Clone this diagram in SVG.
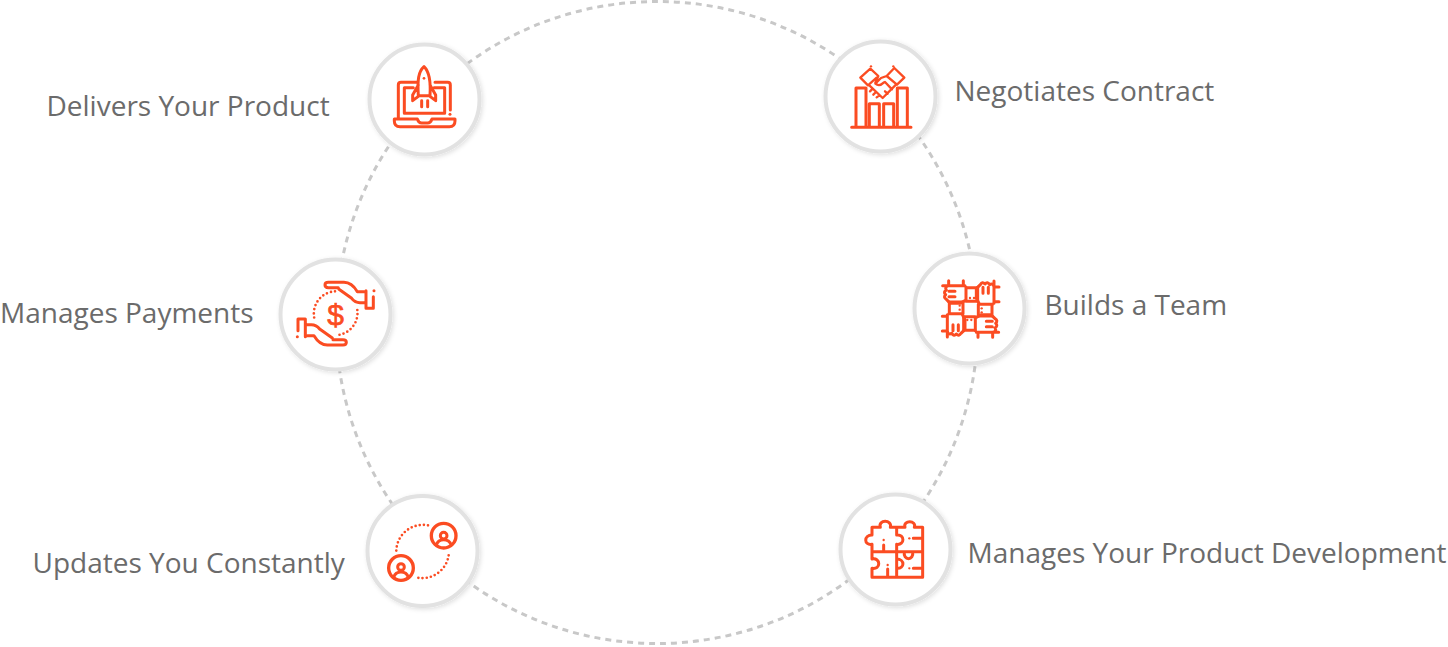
<svg xmlns="http://www.w3.org/2000/svg" width="1448" height="647" viewBox="0 0 1448 647">
<defs>
<filter id="sh" x="-20%" y="-20%" width="150%" height="150%"><feDropShadow dx="1.500" dy="1.500" stdDeviation="2" flood-color="#000" flood-opacity=".12"/></filter>
<g id="weave"><path class="ic" d="M113 125H180M131 110V125M175 110V125M131 125Q118 128 124 138Q114 145 122 152Q114 160 124 166L136 178H165L180 170M183 130V172H218V130M133 178V208M150 142H132M150 158H132"/><circle class="dt" cx="195" cy="162" r="3.500"/><circle class="dt" cx="207" cy="162" r="3.500"/></g>
<g id="palm"><path class="ic" d="M282 125H262Q245 97 222 97H175Q165 97 165 105Q165 113 175 113H205M207 118L245 145Q255 158 270 158H283M288 122V175H310V140"/><circle class="dt" cx="312" cy="122" r="4.500"/></g>
</defs>
<style>
.lb{font-family:"Open Sans",sans-serif;font-size:28px;fill:#6b6b6b}
.ring{fill:#fff;stroke:#e2e2e2;stroke-width:4;filter:url(#sh)}
.ic{fill:none;stroke:#fb4c22;stroke-width:9;stroke-linecap:round;stroke-linejoin:round}
.dots{fill:none;stroke:#fb4c22;stroke-width:8;stroke-linecap:round;stroke-dasharray:0 12.500}
.dt{fill:#fb4c22}
</style>
<rect width="1448" height="647" fill="#fff"/>
<g id="connectors"><circle cx="657" cy="322.500" r="321" fill="none" stroke="#c8c8c8" stroke-width="3" stroke-dasharray="6 5"/></g>

<g id="node-delivers">
<circle class="ring" cx="424.500" cy="99.500" r="55"/>
<g transform="translate(360 35) scale(.3333)">
<path class="ic" d="M115 250V150Q115 142 123 142H170M225 142H263Q271 142 271 150V225M160 158H133V235H254V158H222M103 252H172Q176 264 185 264H203Q212 264 216 252H285V258Q285 275 268 275H120Q103 275 103 258Z"/>
<path class="ic" d="M192 95C175 110 172 135 175 182H210C213 135 208 110 192 95ZM175 150L158 180V197L178 182M210 150L227 180V197L207 182M185 197V215M203 197V215"/>
<circle class="dt" cx="192" cy="130" r="4"/><circle class="dt" cx="270" cy="238" r="4.500"/>
</g>
<text class="lb" x="46.500" y="116">Delivers Your Product</text>
</g>

<g id="node-negotiates">
<circle class="ring" cx="880.500" cy="96.500" r="55"/>
<g transform="translate(816 32) scale(.3333)">
<path class="ic" d="M120 285V168H150V285M160 285V215H190V285M203 285V215H233V285M244 285V168H274V285M107 286H285"/>
<path class="ic" style="stroke-width:7" d="M133 137L163 110L187 132L156 160ZM212 132L235 108L265 137L243 158ZM187 132L178 152M160 160L200 198L240 158M212 132L195 138L178 155Q190 165 203 152L207 150L228 172M170 170L162 178M180 180L172 188M190 190L182 196M215 185L207 178"/>
<circle class="dt" cx="165" cy="103" r="3.500"/><circle class="dt" cx="232" cy="103" r="3.500"/>
</g>
<text class="lb" x="954.500" y="101">Negotiates Contract</text>
</g>

<g id="node-payments">
<circle class="ring" cx="335.500" cy="314.500" r="55"/>
<g transform="translate(270 250) scale(.3333)">
<use href="#palm"/>
<use href="#palm" transform="rotate(180 197 191)"/>
<path class="dots" d="M195 124A67 67 0 0 0 133 205M262 180A67 67 0 0 1 205 255"/>
<text x="197" y="224" text-anchor="middle" font-family="Liberation Sans, sans-serif" font-size="90" fill="#fb4c22" stroke="#fb4c22" stroke-width="2">$</text>
</g>
<text class="lb" x="0" y="323">Manages Payments</text>
</g>

<g id="node-team">
<circle class="ring" cx="969.500" cy="308.500" r="55"/>
<g transform="translate(905 244) scale(.3333)">
<use href="#weave"/>
<use href="#weave" transform="rotate(90 197 195)"/>
<use href="#weave" transform="rotate(180 197 195)"/>
<use href="#weave" transform="rotate(270 197 195)"/>
</g>
<text class="lb" x="1044.500" y="315">Builds a Team</text>
</g>

<g id="node-updates">
<circle class="ring" cx="422.500" cy="551" r="55"/>
<g transform="translate(358 487) scale(.3333)">
<circle class="ic" cx="257" cy="146" r="37" style="stroke-width:10"/>
<circle class="ic" cx="129" cy="243" r="37" style="stroke-width:10"/>
<path class="ic" d="M235 174Q240 158 257 158Q274 158 280 174M107 271Q112 255 129 255Q146 255 151 271"/>
<circle class="ic" cx="257" cy="146" r="10"/><circle class="ic" cx="129" cy="240" r="10"/>
<path class="dots" d="M210 115A80 80 0 0 0 115 198M272 205A80 80 0 0 1 178 272"/>
</g>
<text class="lb" x="32.500" y="573">Updates You Constantly</text>
</g>

<g id="node-development">
<circle class="ring" cx="895.500" cy="549.500" r="55"/>
<g transform="translate(831 485) scale(.3333)">
<path class="ic" d="M123 150V127H148C140 103 185 103 178 127H222C215 105 258 105 250 127H275V277H123V250C150 255 150 217 123 222V200H275M123 150C98 150 98 182 123 178V200M197 127V150C222 146 222 182 197 178V277M220 200C215 228 250 228 245 200M197 222C222 222 222 252 197 250M158 180V198M170 252V275M247 160H275M247 250H275"/>
<circle class="dt" cx="158" cy="165" r="3.500"/><circle class="dt" cx="170" cy="240" r="3.500"/><circle class="dt" cx="235" cy="160" r="3.500"/><circle class="dt" cx="235" cy="250" r="3.500"/>
</g>
<text class="lb" x="967.500" y="563">Manages Your Product Development</text>
</g>
</svg>
